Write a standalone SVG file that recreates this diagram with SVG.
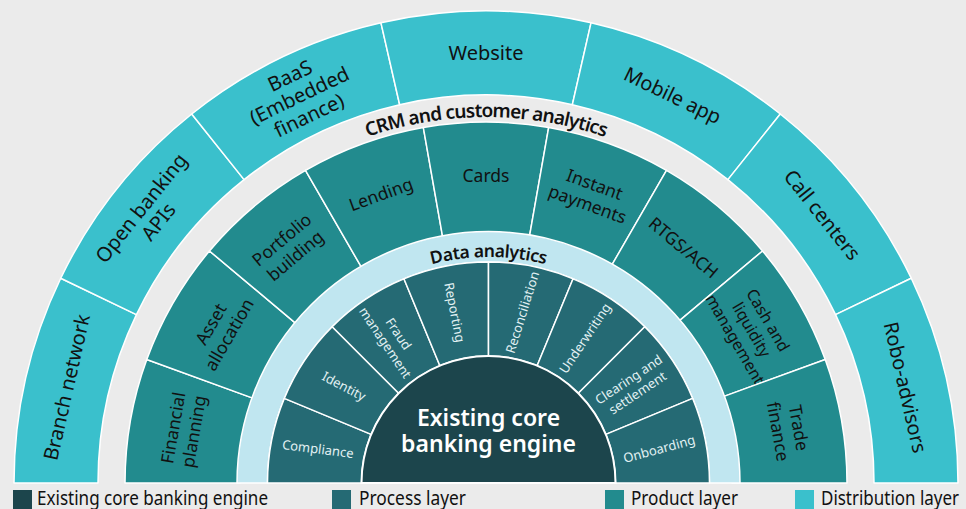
<svg xmlns="http://www.w3.org/2000/svg" width="966" height="509" viewBox="0 0 966 509">
<style>
text { font-family: "Noto Sans", "Open Sans", sans-serif; }
.seg { stroke: #fff; stroke-width: 1.5; stroke-linejoin: round; }
.dist { fill: #3ac0cc; }
.prod { fill: #228b8e; }
.proc { fill: #256a74; }
.core { fill: #1c454c; }
.data { fill: #c0e6f0; }
.ld { font-size: 20px; fill: #111; text-anchor: middle; }
.lp { font-size: 17.5px; fill: #111; text-anchor: middle; }
.lc { font-size: 13px; fill: #e2f1f3; text-anchor: middle; }
.arc { font-weight: 600; fill: #111; }
.leg { font-size: 19px; fill: #111; }
</style>
<defs>
<path id="wD" d="M-472 0A472 472 0 0 1 -425.26 -204.79L-349.58 -168.35A388 388 0 0 0 -388 0Z"/>
<path id="wP" d="M-361 0A361 361 0 0 1 -339.23 -123.47L-231.16 -84.14A246 246 0 0 0 -246 0Z"/>
<path id="wC" d="M-221 0A221 221 0 0 1 -204.18 -84.57L-117.33 -48.6A127 127 0 0 0 -127 0Z"/>
<path id="crmArc" d="M120 483A366 366 0 0 1 852 483"/>
<path id="dataArc" d="M262.5 483A226 226 0 0 1 714.5 483"/>
</defs>
<rect width="966" height="509" fill="#ebebeb"/>

<!-- Distribution layer -->
<g id="branch-network"><use href="#wD" class="seg dist" transform="translate(486 483)"/>
<text class="ld" transform="translate(486 483) rotate(-77.143)" x="0" y="-423">Branch network</text></g>
<g id="open-banking-apis"><use href="#wD" class="seg dist" transform="translate(486 483) rotate(25.714)"/>
<text class="ld" transform="translate(486 483) rotate(-51.429)"><tspan x="0" y="-434">Open banking</tspan><tspan x="0" y="-412">APIs</tspan></text></g>
<g id="baas"><use href="#wD" class="seg dist" transform="translate(486 483) rotate(51.429)"/>
<text class="ld" transform="translate(486 483) rotate(-25.714)"><tspan x="0" y="-445">BaaS</tspan><tspan x="0" y="-423">(Embedded</tspan><tspan x="0" y="-401">finance)</tspan></text></g>
<g id="website"><use href="#wD" class="seg dist" transform="translate(486 483) rotate(77.143)"/>
<text class="ld" transform="translate(486 483)" x="0" y="-423">Website</text></g>
<g id="mobile-app"><use href="#wD" class="seg dist" transform="translate(486 483) rotate(102.857)"/>
<text class="ld" transform="translate(486 483) rotate(25.714)" x="0" y="-423">Mobile app</text></g>
<g id="call-centers"><use href="#wD" class="seg dist" transform="translate(486 483) rotate(128.571)"/>
<text class="ld" transform="translate(486 483) rotate(51.429)" x="0" y="-423">Call centers</text></g>
<g id="robo-advisors"><use href="#wD" class="seg dist" transform="translate(486 483) rotate(154.286)"/>
<text class="ld" transform="translate(486 483) rotate(77.143)" x="0" y="-423">Robo-advisors</text></g>

<!-- Product layer -->
<g id="financial-planning"><use href="#wP" class="seg prod" transform="translate(486 483)"/>
<text class="lp" transform="translate(486 483) rotate(-80)"><tspan x="0" y="-311.5">Financial</tspan><tspan x="0" y="-290.5">planning</tspan></text></g>
<g id="asset-allocation"><use href="#wP" class="seg prod" transform="translate(486 483) rotate(20)"/>
<text class="lp" transform="translate(486 483) rotate(-60)"><tspan x="0" y="-311.5">Asset</tspan><tspan x="0" y="-290.5">allocation</tspan></text></g>
<g id="portfolio-building"><use href="#wP" class="seg prod" transform="translate(486 483) rotate(40)"/>
<text class="lp" transform="translate(486 483) rotate(-40)"><tspan x="0" y="-311.5">Portfolio</tspan><tspan x="0" y="-290.5">building</tspan></text></g>
<g id="lending"><use href="#wP" class="seg prod" transform="translate(486 483) rotate(60)"/>
<text class="lp" transform="translate(486 483) rotate(-20)" x="0" y="-301">Lending</text></g>
<g id="cards"><use href="#wP" class="seg prod" transform="translate(486 483) rotate(80)"/>
<text class="lp" transform="translate(486 483)" x="0" y="-301">Cards</text></g>
<g id="instant-payments"><use href="#wP" class="seg prod" transform="translate(486 483) rotate(100)"/>
<text class="lp" transform="translate(486 483) rotate(20)"><tspan x="0" y="-311.5">Instant</tspan><tspan x="0" y="-290.5">payments</tspan></text></g>
<g id="rtgs-ach"><use href="#wP" class="seg prod" transform="translate(486 483) rotate(120)"/>
<text class="lp" transform="translate(486 483) rotate(40)" x="0" y="-301">RTGS/ACH</text></g>
<g id="cash-liquidity"><use href="#wP" class="seg prod" transform="translate(486 483) rotate(140)"/>
<text class="lp" style="font-size:16px" transform="translate(486 483) rotate(60)"><tspan x="0" y="-320">Cash and</tspan><tspan x="0" y="-301">liquidity</tspan><tspan x="0" y="-282">management</tspan></text></g>
<g id="trade-finance"><use href="#wP" class="seg prod" transform="translate(486 483) rotate(160)"/>
<text class="lp" transform="translate(486 483) rotate(80)"><tspan x="0" y="-311.5">Trade</tspan><tspan x="0" y="-290.5">finance</tspan></text></g>

<!-- CRM band -->
<g id="crm-customer-analytics">
<text class="arc" style="font-size:19px;letter-spacing:-0.8px"><textPath href="#crmArc" startOffset="50%" text-anchor="middle">CRM and customer analytics</textPath></text>
</g>

<!-- Data analytics ring -->
<g id="data-analytics">
<path class="seg data" transform="translate(488.5 483)" d="M-251.5 0A251.5 251.5 0 0 1 251.5 0L221 0A221 221 0 0 0 -221 0Z"/>
<text class="arc" style="font-size:17.5px;letter-spacing:-0.4px"><textPath href="#dataArc" startOffset="50%" text-anchor="middle">Data analytics</textPath></text>
</g>

<!-- Process layer -->
<g id="compliance"><use href="#wC" class="seg proc" transform="translate(488.5 483)"/>
<text class="lc" transform="translate(488.5 483) rotate(11.25) translate(-174 0) rotate(-4)" x="0" y="4.5">Compliance</text></g>
<g id="identity"><use href="#wC" class="seg proc" transform="translate(488.5 483) rotate(22.5)"/>
<text class="lc" transform="translate(488.5 483) rotate(33.75) translate(-174 0) rotate(-6)" x="0" y="4.5">Identity</text></g>
<g id="fraud-management"><use href="#wC" class="seg proc" transform="translate(488.5 483) rotate(45)"/>
<text class="lc" transform="translate(488.5 483) rotate(56.25) translate(-174 0)"><tspan x="0" y="-3.5">Fraud</tspan><tspan x="0" y="12.5">management</tspan></text></g>
<g id="reporting"><use href="#wC" class="seg proc" transform="translate(488.5 483) rotate(67.5)"/>
<text class="lc" transform="translate(488.5 483) rotate(78.75) translate(-174 0)" x="0" y="4.5">Reporting</text></g>
<g id="reconciliation"><use href="#wC" class="seg proc" transform="translate(488.5 483) rotate(90)"/>
<text class="lc" transform="translate(488.5 483) rotate(-78.75) translate(174 0) rotate(6)" x="0" y="4.5">Reconciliation</text></g>
<g id="underwriting"><use href="#wC" class="seg proc" transform="translate(488.5 483) rotate(112.5)"/>
<text class="lc" transform="translate(488.5 483) rotate(-56.25) translate(174 0)" x="0" y="4.5">Underwriting</text></g>
<g id="clearing-settlement"><use href="#wC" class="seg proc" transform="translate(488.5 483) rotate(135)"/>
<text class="lc" transform="translate(488.5 483) rotate(-33.75) translate(174 0)"><tspan x="0" y="-3.5">Clearing and</tspan><tspan x="0" y="12.5">settlement</tspan></text></g>
<g id="onboarding"><use href="#wC" class="seg proc" transform="translate(488.5 483) rotate(157.5)"/>
<text class="lc" transform="translate(488.5 483) rotate(-11.25) translate(174 0) rotate(-4)" x="0" y="4.5">Onboarding</text></g>

<!-- Core -->
<g id="core-banking-engine">
<path class="core" stroke="#fff" stroke-width="2" transform="translate(488.5 483)" d="M-127 0A127 127 0 0 1 127 0Z"/>
<text x="488.5" y="426" style="font-size:23px;font-weight:600;fill:#fff;text-anchor:middle">Existing core</text>
<text x="488.5" y="452" style="font-size:23px;font-weight:600;fill:#fff;text-anchor:middle">banking engine</text>
</g>

<!-- Legend -->
<g id="legend">
<rect x="13" y="490" width="19" height="19" class="core"/>
<text class="leg" x="37" y="505" textLength="231" lengthAdjust="spacingAndGlyphs">Existing core banking engine</text>
<rect x="332" y="490" width="19" height="19" class="proc"/>
<text class="leg" x="359" y="505" textLength="107" lengthAdjust="spacingAndGlyphs">Process layer</text>
<rect x="605" y="490" width="19" height="19" class="prod"/>
<text class="leg" x="631" y="505" textLength="107" lengthAdjust="spacingAndGlyphs">Product layer</text>
<rect x="795" y="490" width="19" height="19" class="dist"/>
<text class="leg" x="821" y="505" textLength="138" lengthAdjust="spacingAndGlyphs">Distribution layer</text>
</g>
</svg>
